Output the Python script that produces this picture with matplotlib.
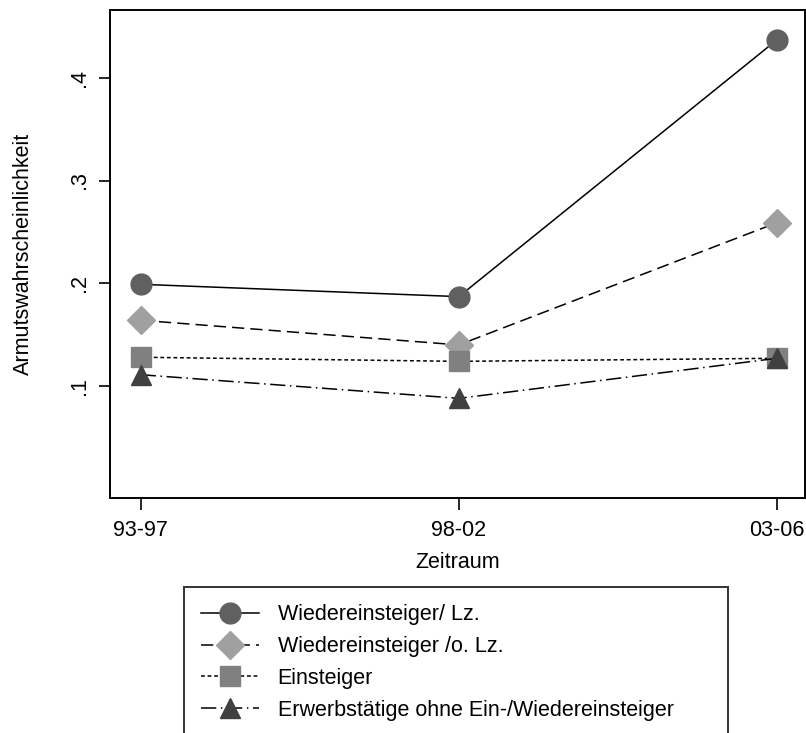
import matplotlib
matplotlib.use("Agg")
import matplotlib.pyplot as plt

plt.rcParams["font.family"] = ["Liberation Sans", "DejaVu Sans"]

periods = ["93-97", "98-02", "03-06"]
wiederein_lz = [0.199, 0.187, 0.437]
wiederein_olz = [0.164, 0.140, 0.259]
einsteiger = [0.128, 0.124, 0.127]
erwerbstaetige = [0.111, 0.088, 0.127]

series_labels = [
    "Wiedereinsteiger/ Lz.",
    "Wiedereinsteiger /o. Lz.",
    "Einsteiger",
    "Erwerbstätige ohne Ein-/Wiedereinsteiger",
]
yticks = [0.1, 0.2, 0.3, 0.4]
ytick_labels = [".1", ".2", ".3", ".4"]

FS = 15.5

fig = plt.figure(figsize=(8.06, 7.33), dpi=100)
ax = fig.add_axes([0.137, 0.3206, 0.8618, 0.6658])

x = [1, 2, 3]
styles = [
    (wiederein_lz, "o", 15, "#606060", "-"),
    (wiederein_olz, "D", 14, "#a0a0a0", (0, (8, 4))),
    (einsteiger, "s", 14, "#808080", (0, (2.5, 1.8))),
    (erwerbstaetige, "^", 15, "#404040", (0, (10, 3, 1, 3))),
]
for (vals, mk, ms, col, ls), lab in zip(styles, series_labels):
    ax.plot(x, vals, color="black", lw=1.1, linestyle=ls, marker=mk,
            markersize=ms, markerfacecolor=col, markeredgecolor=col,
            label=lab)

ax.set_xlim(0.905, 3.088)
ax.set_ylim(-0.009, 0.466)
ax.set_xticks(x)
ax.set_xticklabels(periods, fontsize=FS)
ax.set_yticks(yticks)
ax.set_yticklabels(ytick_labels, fontsize=FS, rotation=90, va="center")
ax.tick_params(axis="x", length=8.5, width=1.2, pad=7)
ax.tick_params(axis="y", length=8, width=1.2, pad=7)
for sp in ax.spines.values():
    sp.set_linewidth(1.4)

ax.set_xlabel("Zeitraum", fontsize=FS, labelpad=8)
ax.set_ylabel("Armutswahrscheinlichkeit", fontsize=FS, labelpad=25)

leg = fig.legend(loc="upper left", bbox_to_anchor=(0.2283, 0.0, 0.675, 0.199),
                 mode="expand", ncol=1, fontsize=FS, frameon=True,
                 fancybox=False, numpoints=1, handlelength=2.7,
                 handletextpad=0.85, borderpad=0.8, labelspacing=0.5,
                 borderaxespad=0)
leg.get_frame().set_edgecolor("black")
leg.get_frame().set_linewidth(1.4)

fig.savefig("out.png", dpi=100)
